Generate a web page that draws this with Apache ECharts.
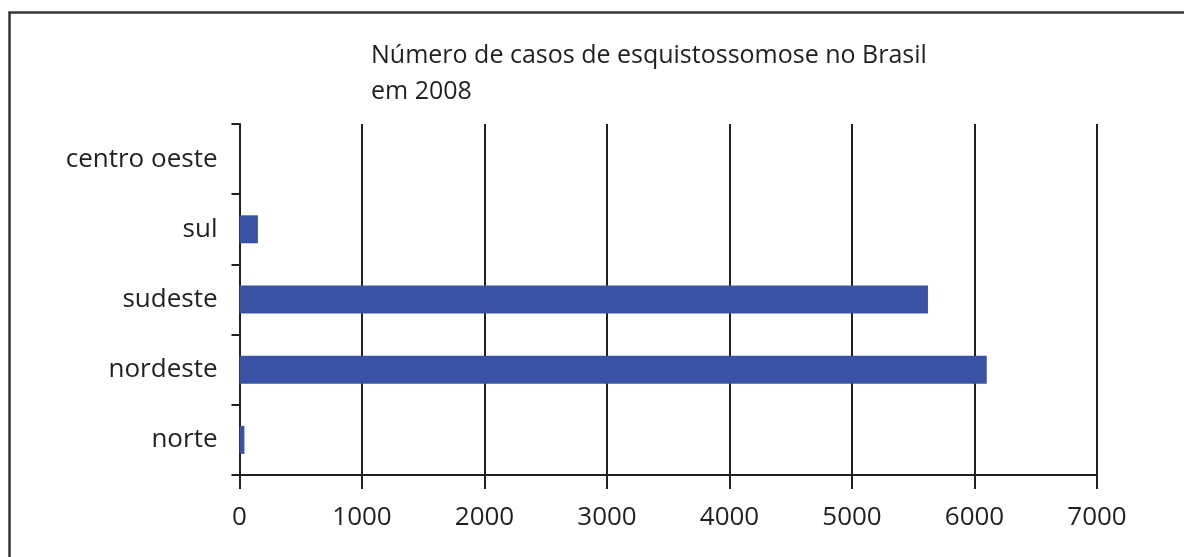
<!DOCTYPE html>
<html>
<head>
<meta charset="utf-8">
<script src="https://cdn.jsdelivr.net/npm/echarts@6/dist/echarts.min.js"></script>
<style>
html, body { margin: 0; padding: 0; background: #fff; }
#chart { width: 1184px; height: 557px; }
</style>
</head>
<body>
<div id="chart"></div>
<script>
// regiões (de baixo para cima, como o eixo de categorias do echarts)
var regioes = ['norte', 'nordeste', 'sudeste', 'sul', 'centro oeste'];
var casos = [40, 6100, 5620, 150, 0];
var xTicks = [0, 1000, 2000, 3000, 4000, 5000, 6000, 7000];

var corTexto = '#231f20';
var fonte = '"Open Sans", "Noto Sans", sans-serif';

var chart = echarts.init(document.getElementById('chart'));
chart.setOption({
	animation: false,
	backgroundColor: '#fff',
	textStyle: { fontFamily: fonte, color: corTexto },
	graphic: [{
		type: 'rect',
		shape: { x: 9.5, y: 12.5, width: 1200, height: 600 },
		style: { fill: 'none', stroke: '#333', lineWidth: 2.5 },
		silent: true
	}],
	title: {
		text: 'Número de casos de esquistossomose no Brasil\nem 2008',
		left: 366,
		top: 33,
		textStyle: {
			fontFamily: fonte,
			fontWeight: 'normal',
			fontSize: 25,
			color: corTexto,
			lineHeight: 36
		}
	},
	grid: { left: 239.5, right: 87, top: 124, bottom: 82, containLabel: false },
	xAxis: {
		type: 'value',
		min: xTicks[0],
		max: xTicks[xTicks.length - 1],
		interval: 1000,
		axisLine: { show: true, lineStyle: { color: corTexto, width: 2 } },
		axisTick: { show: true, length: 14, lineStyle: { color: corTexto, width: 2 } },
		axisLabel: {
			margin: 30, fontSize: 26, color: corTexto, fontFamily: fonte,
			formatter: function (v) { return String(v); }
		},
		splitLine: { show: true, lineStyle: { color: corTexto, width: 2 } }
	},
	yAxis: {
		type: 'category',
		data: regioes,
		axisLine: { show: true, lineStyle: { color: corTexto, width: 2 } },
		axisTick: { show: true, length: 8, lineStyle: { color: corTexto, width: 2 } },
		axisLabel: { margin: 22, fontSize: 26, color: corTexto, fontFamily: fonte },
		splitLine: { show: false }
	},
	series: [{
		type: 'bar',
		data: casos,
		barWidth: 28,
		itemStyle: { color: '#3953a4' }
	}]
});
</script>
</body>
</html>
